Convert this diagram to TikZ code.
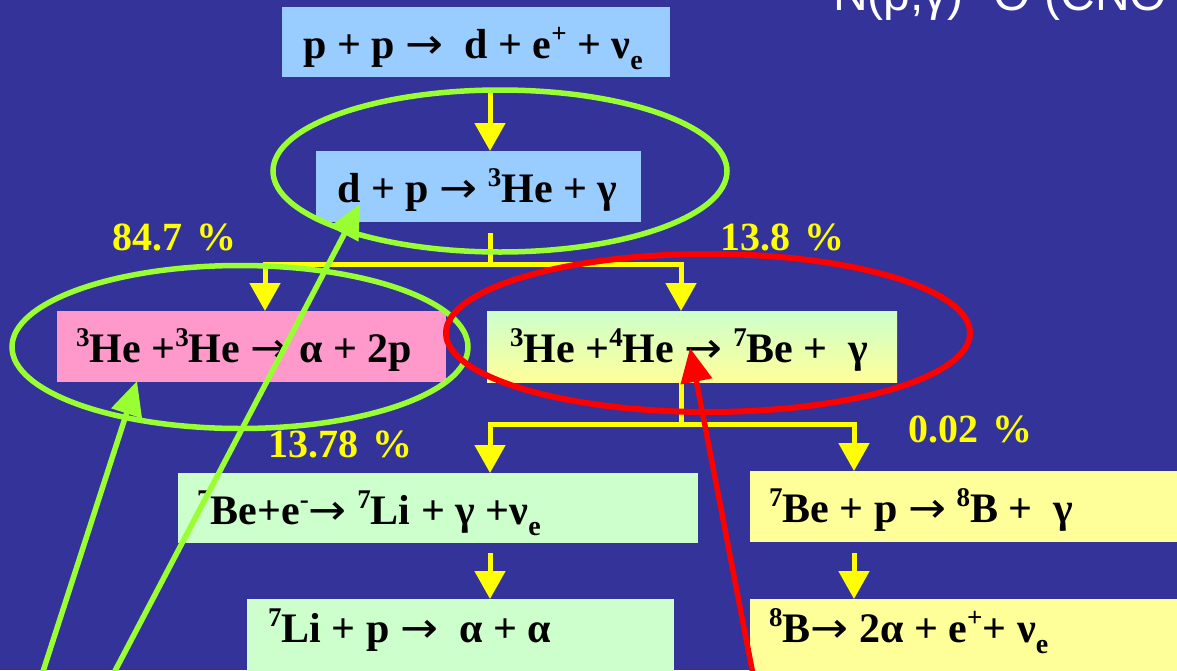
\documentclass[tikz,border=0pt]{standalone}
\usepackage{fontspec}
\setmainfont{Liberation Serif}
\newfontfamily\arialf{Liberation Sans}
\newfontfamily\arrowf{DejaVu Sans}
\usetikzlibrary{arrows.meta,shapes.geometric}
\definecolor{bg}{RGB}{51,51,153}
\definecolor{bblue}{RGB}{153,204,255}
\definecolor{bpink}{RGB}{255,153,204}
\definecolor{bgreen}{RGB}{204,255,204}
\definecolor{byellow}{RGB}{255,255,153}
\definecolor{ylw}{RGB}{255,255,0}
\definecolor{lime}{RGB}{153,255,51}
\newcommand\su[1]{\raisebox{16pt}{\fontsize{27}{27}\selectfont #1}}
\newcommand\dn[1]{\raisebox{-11pt}{\fontsize{28}{28}\selectfont #1}}
\newcommand\ar{{\arrowf\mdseries\scalebox{1.08}[1]{→}}}
\begin{document}
\begin{tikzpicture}[x=1pt,y=-1pt,
  box/.style={anchor=north west, inner sep=0pt, outer sep=0pt},
  eq/.style={anchor=base west, inner sep=0pt, font=\fontsize{42}{48}\selectfont\bfseries, text=black},
  pct/.style={anchor=base west, inner sep=0pt, font=\fontsize{40}{46}\selectfont\bfseries, text=ylw},
  ya/.style={draw=ylw, line width=5pt, -{Triangle[width=30pt,length=28pt]}},
  ring/.style={draw, ellipse, line width=5.5pt, inner sep=0pt},
  pointer/.style={line width=5.5pt, -{Triangle[width=31pt,length=34pt]}}
]
\useasboundingbox[fill=bg] (0,0) rectangle (1177,670);

% boxes
\node[box, fill=bblue, minimum width=388pt, minimum height=70pt] (b1) at (282,7) {};
\node[box, fill=bblue, minimum width=325pt, minimum height=71pt] (b2) at (316,151) {};
\node[box, fill=bpink, minimum width=389pt, minimum height=71pt] (b3) at (57,311) {};
\node[box, top color=bgreen, bottom color=byellow, minimum width=410pt, minimum height=71pt] (b4) at (487,311) {};
\node[box, fill=bgreen, minimum width=520pt, minimum height=70pt] (b5) at (178,473) {};
\node[box, fill=bgreen, minimum width=427pt, minimum height=80pt] (b6) at (247,599) {};
\node[box, fill=byellow, minimum width=440pt, minimum height=71pt] (b7) at (750,471) {};
\node[box, fill=byellow, minimum width=440pt, minimum height=80pt] (b8) at (750,599) {};

% yellow connectors
\coordinate (s1) at (490,88);
\draw[ya] (s1) -- (b2.north -| s1);
\coordinate (s2) at (490,233);
\coordinate (hL) at (265,264);
\coordinate (hR) at (681,264);
\draw[ya] (s2) |- (hL) -- (b3.north -| hL);
\draw[ya] (s2 |- hL) -- (hR) -- (b4.north -| hR);
\coordinate (jS) at (681,424);
\coordinate (jL) at (490,424);
\coordinate (jR) at (854,424);
\draw[ya] (b4.south -| jS) -- (jS) -- (jL) -- (b5.north -| jL);
\draw[ya] (jS) -- (jR) -- (b7.north -| jR);
\coordinate (s5) at (490,553);
\draw[ya] (s5) -- (b6.north -| s5);
\coordinate (s7) at (854,553);
\draw[ya] (s7) -- (b8.north -| s7);

% equations
\node[eq] (t1) at ([shift={(21,16)}]b1.west) {p + p \ar\ \ d + e\su{+} + ν\dn{e}};
\node[eq] (t2) at ([shift={(21,16)}]b2.west) {d + p \ar\ \su{3}He + γ};
\node[eq] (t3) at ([shift={(19,16)}]b3.west) {\su{3}He +\su{3}He \ar\ α + 2p};
\node[eq] (t4) at ([shift={(23,16)}]b4.west) {\su{3}He +\su{4}He \ar\ \su{7}Be +\ \ γ};
\node[eq] (t5) at ([shift={(19,16)}]b5.west) {\su{7}Be+e\su{-}\ar\ \su{7}Li + γ +ν\dn{e}};
\node[eq] (t6) at (268,642) {\su{7}Li + p \ar\ \ α + α};
\node[eq] (t7) at ([shift={(19,16)}]b7.west) {\su{7}Be + p \ar\ \su{8}B +\ \ γ};
\node[eq] (t8) at (769,642) {\su{8}B\ar\ 2α + e\su{+}+ ν\dn{e}};

% percentages
\node[pct] (p1) at (112,250) {84.7\hspace{4pt} \%};
\node[pct] (p2) at (720,250) {13.8\hspace{4pt} \%};
\node[pct] (p3) at (268,457) {13.78\hspace{4pt} \%};
\node[pct] (p4) at (908,442) {0.02\hspace{4pt} \%};

% top right title fragment
\node[anchor=base west, inner sep=0pt, text=white, font=\arialf\fontsize{48}{56}\selectfont] (cno) at (803,10) {\raisebox{20pt}{\fontsize{27}{27}\selectfont 14}N(p,γ)\raisebox{20pt}{\fontsize{27}{27}\selectfont 15}O (CNO};

% highlight ellipses
\node[ring, draw=lime, minimum width=454pt, minimum height=162pt] (e1) at (500,171) {};
\node[ring, draw=lime, minimum width=456pt, minimum height=163pt] (e2) at (240,347) {};
\node[ring, draw=red, line width=6pt, minimum width=524pt, minimum height=158pt] (e3) at (708,333) {};

% pointer arrows
\coordinate (g1s) at (37,690);
\coordinate (g1t) at (137,381);
\coordinate (g2s) at (105,690);
\coordinate (g2t) at (360,204);
\coordinate (r1s) at (756,690);
\coordinate (r1t) at (690,348);
\draw[pointer, draw=lime, fill=lime] (g1s) -- (g1t);
\draw[pointer, draw=lime, fill=lime] (g2s) -- (g2t);
\draw[pointer, draw=red, fill=red] (r1s) -- (r1t);
\end{tikzpicture}
\end{document}
